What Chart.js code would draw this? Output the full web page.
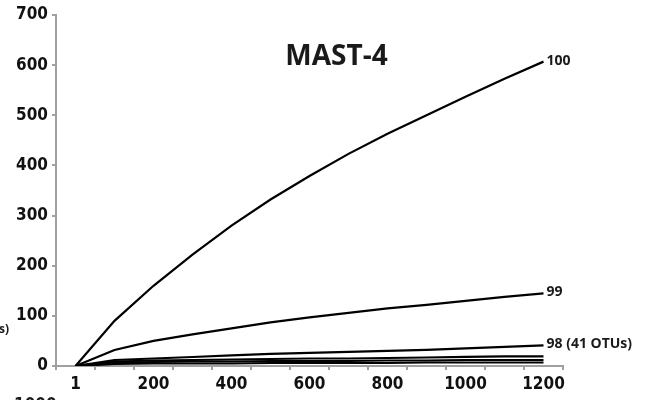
<!DOCTYPE html>
<html>
<head>
<meta charset="utf-8">
<script src="https://cdn.jsdelivr.net/npm/chart.js@4/dist/chart.umd.min.js"></script>
<style>
  html, body { margin: 0; padding: 0; background: #fff; overflow: hidden; }
  #wrap { position: relative; width: 653px; height: 400px; overflow: hidden; }
  canvas { position: absolute; left: 0; top: 0; }
  .frag { position: absolute; font-weight: bold; color: #1a1a1a; white-space: nowrap; }
</style>
</head>
<body>
<div id="wrap">
  <canvas id="c" width="653" height="400"></canvas>
  <div class="frag" style="right:644px; top:320px; font:bold 12px 'Open Sans', sans-serif;">(OTUs)</div>
  <div class="frag" style="left:14px; top:394px; font:bold 17px 'DejaVu Sans Condensed', 'Liberation Sans', sans-serif;">1000</div>
</div>
<script>
// Sequences sampled (x categories) and OTU counts at each clustering threshold
const categories = ['1', '100', '200', '300', '400', '500', '600', '700', '800', '900', '1000', '1100', '1200'];
const otu100 = [0, 90, 160, 222, 280, 332, 379, 423, 463, 500, 537, 573, 607];
const otu99  = [0, 32, 50, 63, 75, 87, 97, 106, 115, 122, 130, 138, 145];
const otu98  = [0, 12, 15, 18, 21, 24, 26, 28, 30, 32, 35, 38, 41];
const otu97  = [0, 9, 11, 12, 13, 14, 15, 15, 16, 17, 18, 19, 19];
const otu95  = [0, 7, 8, 9, 9, 10, 10, 10, 11, 11, 12, 12, 12];
const otu90  = [0, 4, 5, 5, 5, 6, 6, 6, 6, 7, 7, 7, 7];
const yTicks = [0, 100, 200, 300, 400, 500, 600, 700];
const endLabels = ['100', '99', '98 (41 OTUs)', '', '', ''];
const chartTitle = 'MAST-4';

const series = [otu100, otu99, otu98, otu97, otu95, otu90];

const tickFont = { family: "'DejaVu Sans Condensed', 'Liberation Sans', Arial, sans-serif", size: 17, weight: 'bold' };

const endLabelPlugin = {
  id: 'endLabels',
  afterDatasetsDraw(chart) {
    const ctx = chart.ctx;
    ctx.save();
    ctx.fillStyle = '#1a1a1a';
    ctx.font = "bold 14px 'Open Sans', sans-serif";
    ctx.textBaseline = 'middle';
    ctx.textAlign = 'left';
    chart.data.datasets.forEach((ds, i) => {
      if (!endLabels[i]) return;
      const meta = chart.getDatasetMeta(i);
      const pt = meta.data[meta.data.length - 1];
      ctx.fillText(endLabels[i], pt.x + 3, pt.y - 1);
    });
    // chart title
    const area = chart.chartArea;
    ctx.font = "bold 28px 'Open Sans', sans-serif";
    ctx.textAlign = 'center';
    ctx.textBaseline = 'alphabetic';
    ctx.fillText(chartTitle, (area.left + area.right) / 2 + 27, area.top + 50);
    ctx.restore();
  }
};

new Chart(document.getElementById('c'), {
  type: 'line',
  data: {
    labels: categories,
    datasets: series.map(s => ({
      data: s,
      borderColor: '#000',
      borderWidth: 2.2,
      pointRadius: 0,
      tension: 0,
      fill: false
    }))
  },
  options: {
    responsive: false,
    animation: false,
    layout: { padding: { top: 15, right: 90, left: 0, bottom: 0 } },
    plugins: { legend: { display: false }, tooltip: { enabled: false }, title: { display: false } },
    scales: {
      x: {
        type: 'category',
        offset: true,
        grid: { offset: true, drawOnChartArea: false, drawTicks: true, tickLength: 4, color: '#a0a0a0', lineWidth: 2 },
        border: { color: '#a0a0a0', width: 2 },
        ticks: {
          autoSkip: false,
          maxRotation: 0,
          color: '#111',
          font: tickFont,
          padding: 4,
          callback: function(v, i) { return i % 2 === 0 ? this.getLabelForValue(v) : ''; }
        },
        afterFit(scale) { scale.height = 34; }
      },
      y: {
        min: 0,
        max: 700,
        afterBuildTicks(scale) { scale.ticks = yTicks.map(v => ({ value: v })); },
        grid: { drawOnChartArea: false, drawTicks: true, tickLength: 4, color: '#a0a0a0', lineWidth: 2 },
        border: { color: '#a0a0a0', width: 2 },
        ticks: { color: '#111', font: tickFont, padding: 4 },
        afterFit(scale) { scale.width = 56; }
      }
    }
  },
  plugins: [endLabelPlugin]
});
</script>
</body>
</html>
